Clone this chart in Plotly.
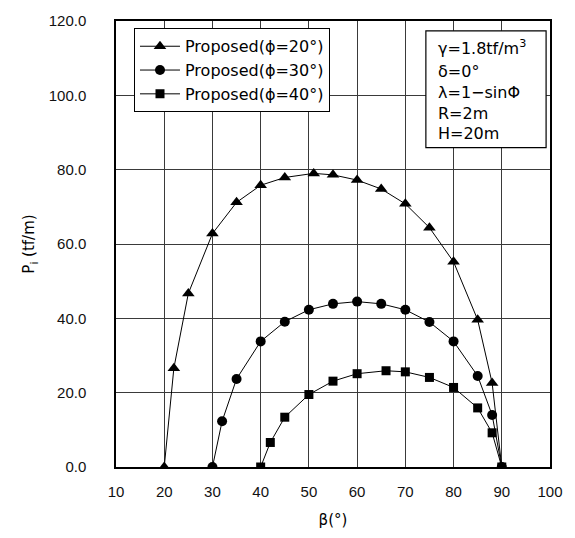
import plotly.graph_objects as go

# Earth pressure P_i (tf/m) versus failure-plane angle beta (deg) for three friction angles
beta_phi20 = [20, 22, 25, 30, 35, 40, 45, 51, 55, 60, 65, 70, 75, 80, 85, 88, 90]
p_phi20 = [0.0, 26.6, 46.7, 62.8, 71.2, 75.8, 77.9, 79.0, 78.6, 77.2, 74.8, 70.8, 64.4, 55.2, 39.6, 22.6, 0.0]

beta_phi30 = [30, 32, 35, 40, 45, 50, 55, 60, 65, 70, 75, 80, 85, 88, 90]
p_phi30 = [0.0, 12.3, 23.7, 33.8, 39.1, 42.3, 43.9, 44.5, 43.9, 42.3, 39.0, 33.8, 24.5, 14.0, 0.0]

beta_phi40 = [40, 42, 45, 50, 55, 60, 66, 70, 75, 80, 85, 88, 90]
p_phi40 = [0.0, 6.6, 13.4, 19.5, 23.1, 25.1, 25.9, 25.6, 24.1, 21.4, 15.9, 9.2, 0.0]

series_names = ["Proposed(ϕ=20°)", "Proposed(ϕ=30°)", "Proposed(ϕ=40°)"]
x_ticks = [10, 20, 30, 40, 50, 60, 70, 80, 90, 100]
y_ticks = [0, 20, 40, 60, 80, 100, 120]

param_lines = ["γ=1.8tf/m<sup>3</sup>", "δ=0°", "λ=1−sinΦ", "R=2m", "H=20m"]

FONT = "DejaVu Sans"
TICK_FONT = "Liberation Sans"

fig = go.Figure()
for xs, ys, name, sym, size in [
    (beta_phi20, p_phi20, series_names[0], "triangle-up", 11),
    (beta_phi30, p_phi30, series_names[1], "circle", 10),
    (beta_phi40, p_phi40, series_names[2], "square", 9),
]:
    fig.add_trace(go.Scatter(
        x=xs, y=ys, name=name, mode="lines+markers",
        line=dict(color="black", width=1),
        marker=dict(symbol=sym, size=size, color="black"),
    ))

# Parameter box in the upper right corner
fig.add_shape(type="rect", xref="paper", yref="paper",
              x0=0.714, x1=0.991, y0=0.716, y1=0.978,
              line=dict(color="black", width=1.2), fillcolor="white", layer="above")
line_y = [45, 69, 90, 111, 132]
for txt, py in zip(param_lines, line_y):
    fig.add_annotation(xref="paper", yref="paper", x=0.737, y=(468 - py) / 450,
                       xanchor="left", yanchor="middle", text=txt, showarrow=False,
                       font=dict(family=FONT, size=16, color="black"))

axis_common = dict(
    showline=True, linecolor="black", linewidth=1.5, mirror=True,
    showgrid=True, gridcolor="#3a3a3a", gridwidth=1,
    zeroline=False, ticks="",
    tickfont=dict(family=TICK_FONT, size=15, color="#111"),
)

fig.update_layout(
    width=575, height=538,
    margin=dict(l=116, r=25, t=18, b=70),
    plot_bgcolor="white", paper_bgcolor="white",
    font=dict(family=FONT, size=14, color="black"),
    xaxis=dict(range=[10, 100], tickvals=x_ticks, ticklabelstandoff=10,
               title=dict(text="β(°)", font=dict(family=FONT, size=15), standoff=16),
               **axis_common),
    yaxis=dict(range=[0, 120], tickvals=y_ticks, tickformat=".1f", ticklabelstandoff=25,
               title=dict(text="P<sub>i</sub> (tf/m)", font=dict(family=FONT, size=15), standoff=10),
               **axis_common),
    legend=dict(x=0.041, y=0.984, xanchor="left", yanchor="top",
                bgcolor="white", bordercolor="black", borderwidth=1.2,
                font=dict(family=FONT, size=16, color="black"),
                tracegroupgap=0, itemwidth=40),
    showlegend=True,
)

fig.write_html("out.html")
